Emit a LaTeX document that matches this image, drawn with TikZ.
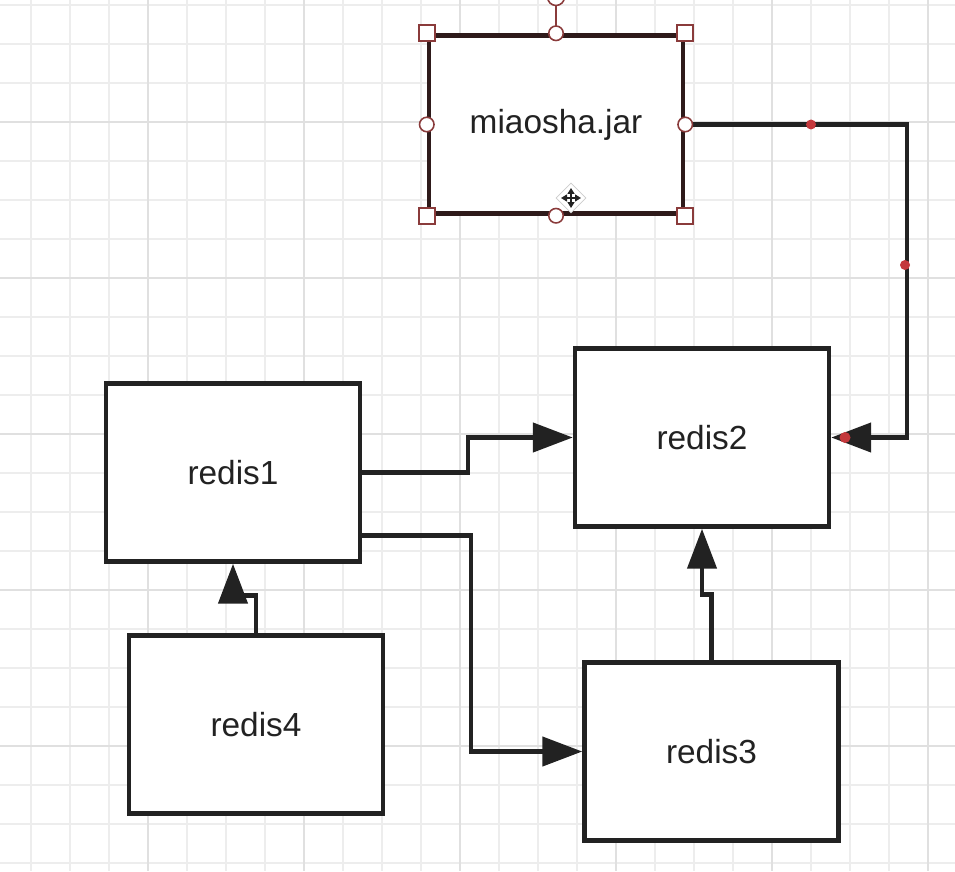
\documentclass[tikz,border=0pt]{standalone}
\usepackage{fontspec}
\setmainfont{Liberation Sans}
\usetikzlibrary{arrows.meta,calc,shapes.geometric}
\definecolor{gridminor}{HTML}{EDEDED}
\definecolor{gridmajor}{HTML}{E0E0E0}
\definecolor{ink}{HTML}{222222}
\definecolor{jarink}{HTML}{2E1A1A}
\definecolor{handlered}{HTML}{8A3B3B}
\definecolor{dotred}{HTML}{C4383C}
\begin{document}
\begin{tikzpicture}[x=0.02cm,y=-0.02cm,
    every node/.append style={font=\fontsize{19}{22}\selectfont,text=ink},
    redisbox/.style={draw=ink,fill=white,line width=0.09cm,minimum width=5.08cm,minimum height=3.56cm},
    link/.style={draw=ink,line width=0.09cm,-{Triangle[length=0.8cm,width=0.58cm]}},
    handlesq/.style={draw=handlered,fill=white,line width=0.9pt,minimum size=0.32cm,inner sep=0pt},
    handlect/.style={draw=handlered,fill=white,line width=0.9pt,circle,minimum size=0.29cm,inner sep=0pt}]
      \useasboundingbox (0,0) rectangle (955,871);
      \clip (0,0) rectangle (955,871);
      \fill[white] (0,0) rectangle (955,871);

      % grid
      \foreach \gx in {31,70,...,955} \draw[gridminor,line width=0.8pt] (\gx,0) -- (\gx,871);
      \foreach \gy in {5,44,...,871} \draw[gridminor,line width=0.8pt] (0,\gy) -- (955,\gy);
      \foreach \gx in {148,304,...,955} \draw[gridmajor,line width=0.8pt] (\gx,0) -- (\gx,871);
      \foreach \gy in {122,278,...,871} \draw[gridmajor,line width=0.8pt] (0,\gy) -- (955,\gy);

      \node[redisbox,draw=jarink] (jar) at (556,124.5) {miaosha.jar};
      \node[redisbox] (redis1) at (233,472.5) {redis1};
      \node[redisbox] (redis2) at (702,437.5) {redis2};
      \node[redisbox] (redis3) at (711.5,751.5) {redis3};
      \node[redisbox] (redis4) at (256,724.5) {redis4};

      \draw[link] (redis1.east) -- ++(106,0) |- (redis2.west);
      \draw[link] ($(redis1.south east)+(0,-28)$) -- ++(109,0) |- (redis3.west);
      \draw[link] (redis4.north) -- ++(0,-38) -| (redis1.south);
      \draw[link] (redis3.north) -- ++(0,-66) -| (redis2.south);
      \draw[link] (jar.east) -- ++(222,0) |- (redis2.east);

      \fill[dotred] (811,124.5) circle (5);
      \fill[dotred] (905,265) circle (5);
      \fill[dotred] (845,437.5) circle (5.5);

      % selection handles
      \draw[handlered,line width=0.9pt] (jar.north) -- ++(0,-36);
      \node[handlect,minimum size=0.34cm] at (556,-3) {};
      \foreach \a in {north west,north east,south west,south east} \node[handlesq] at (jar.\a) {};
      \foreach \a in {north,south,west,east} \node[handlect] at (jar.\a) {};

      \node[diamond,fill=white,draw=gray!40,minimum size=0.6cm,inner sep=0pt] (cursor) at (571,198) {};
      \draw[ink,line width=0.8pt,{Triangle[length=1.2mm,width=1.4mm]}-{Triangle[length=1.2mm,width=1.4mm]}] (561,198) -- (581,198);
      \draw[ink,line width=0.8pt,{Triangle[length=1.2mm,width=1.4mm]}-{Triangle[length=1.2mm,width=1.4mm]}] (571,188) -- (571,208);
    \end{tikzpicture}
\end{document}
